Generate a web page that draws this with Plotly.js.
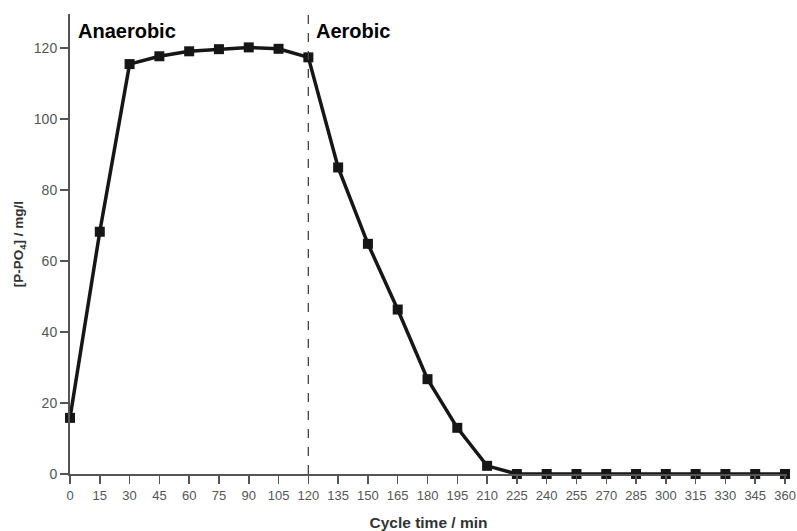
<!DOCTYPE html>
<html>
<head>
<meta charset="utf-8">
<script src="https://cdn.plot.ly/plotly-3.0.1.min.js"></script>
<style>html,body{margin:0;padding:0;background:#fff;}#chart{width:797px;height:531px;}</style>
</head>
<body>
<div id="chart"></div>
<script>
const cycleTime = [0,15,30,45,60,75,90,105,120,135,150,165,180,195,210,225,240,255,270,285,300,315,330,345,360];
const phosphate = [15.8,68.2,115.4,117.6,119.0,119.6,120.1,119.7,117.3,86.3,64.8,46.3,26.7,13.0,2.3,0,0,0,0,0,0,0,0,0,0];
const phaseSwitch = 120;
const phaseLabels = ["Anaerobic","Aerobic"];
const phaseLabelX = [3, 123];
const xTicks = cycleTime;

const trace = {
  x: cycleTime, y: phosphate, type: 'scatter', mode: 'lines+markers',
  line: {color: '#161616', width: 3.5},
  marker: {symbol: 'square', size: 10, color: '#161616'},
  cliponaxis: false, hoverinfo: 'none'
};

const layout = {
  width: 797, height: 531,
  margin: {l: 70, r: 10, t: 14, b: 57},
  paper_bgcolor: '#fff', plot_bgcolor: '#fff',
  showlegend: false,
  font: {family: 'Arial, Liberation Sans, sans-serif', color: '#555', size: 13},
  xaxis: {
    range: [0, 361], tickvals: xTicks, ticktext: xTicks.map(String),
    showgrid: false, zeroline: false, showline: true, linecolor: '#555', linewidth: 2,
    ticks: 'outside', ticklen: 8, tickwidth: 1.5, tickcolor: '#555',
    tickfont: {size: 13, color: '#555'},
    title: {text: '<b>Cycle time / min</b>', font: {size: 15.5, color: '#333'}, standoff: 16}
  },
  yaxis: {
    range: [0, 129.5], tickvals: [0,20,40,60,80,100,120],
    showgrid: false, zeroline: false, showline: true, linecolor: '#555', linewidth: 2,
    ticks: 'outside', ticklen: 8, tickwidth: 1.5, tickcolor: '#555',
    tickfont: {size: 14, color: '#555'},
    title: {text: '<b>[P-PO<sub>4</sub>] / mg/l</b>', font: {size: 13.5, color: '#333'}, standoff: 7}
  },
  shapes: [{
    type: 'line', xref: 'x', yref: 'y', x0: phaseSwitch, x1: phaseSwitch, y0: 0, y1: 129.5,
    line: {color: '#444', width: 1.3, dash: 'dash'}
  }],
  annotations: phaseLabels.map((t, i) => ({
    text: '<b>' + t + '</b>', x: phaseLabelX[i], y: 124.8, xref: 'x', yref: 'y',
    xanchor: 'left', yanchor: 'middle', showarrow: false,
    font: {size: 20, color: '#000', family: 'Arial, Liberation Sans, sans-serif'}
  }))
};

Plotly.newPlot('chart', [trace], layout, {displayModeBar: false, staticPlot: true});
</script>
</body>
</html>
